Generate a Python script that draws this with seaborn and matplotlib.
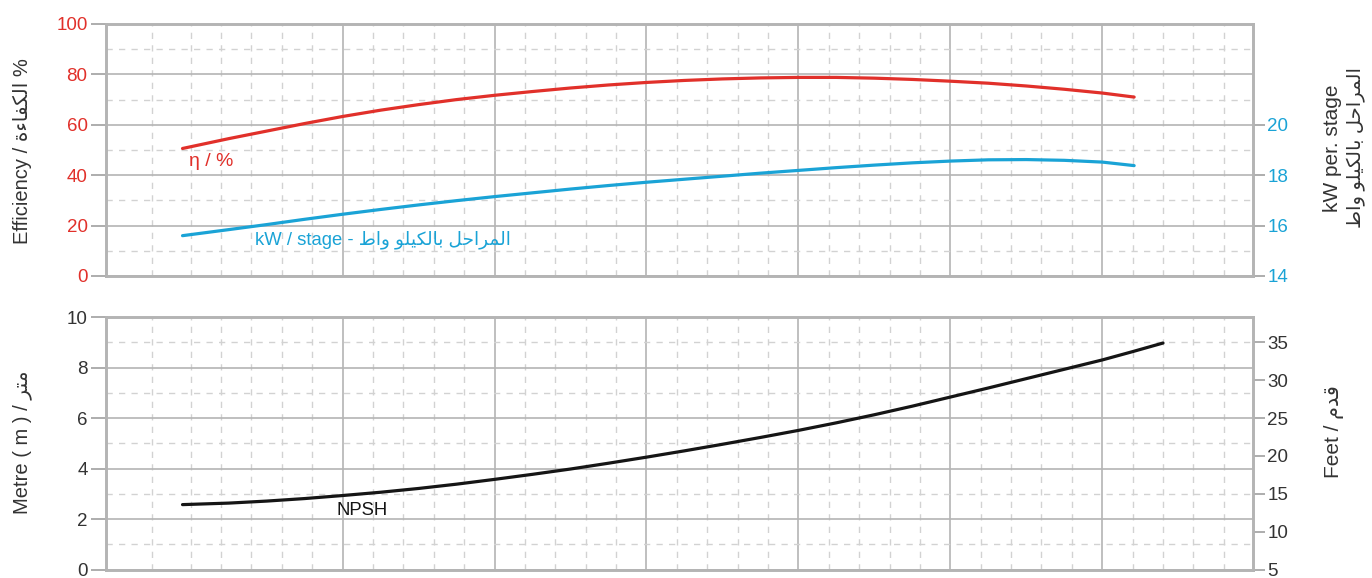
import numpy as np
import pandas as pd
import matplotlib
matplotlib.use("Agg")
import matplotlib.pyplot as plt
import seaborn as sns

# flow positions (1 unit = one minor grid step)
flow = [-0.27, 1.25, 2.5, 3.75, 5, 6.25, 7.5, 8.75, 10, 11.25, 12.5, 13.75, 15,
        16.25, 17.5, 18.75, 20, 21.25, 22.5, 23.75, 25, 26.25, 27.5, 28.75, 30, 31.05]
efficiency = [50.6, 54.5, 57.5, 60.5, 63.3, 65.8, 68.0, 70.0, 71.7, 73.2, 74.6, 75.8, 76.8,
              77.6, 78.2, 78.6, 78.8, 78.8, 78.5, 78.0, 77.3, 76.5, 75.4, 74.1, 72.6, 71.0]
kw_stage = [15.6, 15.84, 16.04, 16.25, 16.45, 16.64, 16.82, 16.99, 17.15, 17.30, 17.45, 17.59, 17.72,
            17.84, 17.96, 18.08, 18.19, 18.30, 18.40, 18.49, 18.56, 18.61, 18.62, 18.59, 18.52, 18.38]

flow_npsh = [-0.27, 1.25, 2.5, 3.75, 5, 6.25, 7.5, 8.75, 10, 11.25, 12.5, 13.75, 15,
             16.25, 17.5, 18.75, 20, 21.25, 22.5, 23.75, 25, 26.25, 27.5, 28.75, 30, 31, 32]
npsh_m = [2.57, 2.63, 2.71, 2.81, 2.93, 3.06, 3.21, 3.38, 3.57, 3.77, 3.98, 4.21, 4.45,
          4.70, 4.96, 5.23, 5.51, 5.81, 6.13, 6.47, 6.83, 7.19, 7.56, 7.93, 8.30, 8.63, 8.97]

eff_ticks = [0, 20, 40, 60, 80, 100]
kw_ticks = [14, 16, 18, 20]
metre_ticks = [0, 2, 4, 6, 8, 10]
feet_ticks = [5, 10, 15, 20, 25, 30, 35]

# Arabic text in visual (left-to-right) order with presentation forms
AR_EFF = "\ufe93\ufe80\ufe8e\ufed4\ufedc\ufedf\ufe8d"          # الكفاءة
AR_METRE = "\ufeae\ufe98\ufee3"                                # متر
AR_FEET = "\ufee1\ufeaa\ufed7"                                 # قدم
AR_KW = ("\ufec1\ufe8d\ufeed" + " "                             # واط
         + "\ufeee\ufee0\ufef4\ufedc\ufedf\ufe8e\ufe91" + " "   # بالكيلو
         + "\ufede\ufea3\ufe8d\ufeae\ufee4\ufedf\ufe8d")        # المراحل

RED = "#e1302a"
CYAN = "#1aa3d6"
GREY = "#b4b4b4"
TXT = "#333333"

sns.set_style("white")
plt.rcParams["font.family"] = ["Liberation Sans", "DejaVu Sans"]

fig = plt.figure(figsize=(13.72, 5.78), dpi=100)
ax1 = fig.add_axes([0.077, 0.5225, 0.836, 0.436])
ax2 = fig.add_axes([0.077, 0.0147, 0.836, 0.4368])

x_major = [5, 10, 15, 20, 25, 30]
x_minor = [-1.28] + [v for v in range(0, 35) if v % 5 != 0 or v == 0]


def style_grid(ax, ymaj, ymin):
    ax.set_xlim(-2.8, 34.95)
    ax.set_xticks(x_major)
    ax.set_xticks(x_minor, minor=True)
    ax.set_yticks(ymaj)
    ax.set_yticks(ymin, minor=True)
    ax.grid(which="major", color=GREY, lw=1.2)
    ax.grid(which="minor", color="#d2d2d2", lw=1.0, ls=(0, (4.5, 4.5)))
    ax.set_axisbelow(True)
    ax.tick_params(axis="x", which="both", length=0, labelbottom=False)
    ax.tick_params(axis="y", which="minor", length=0)
    ax.tick_params(axis="y", which="major", length=11, width=1.2, color="#a0a0a0",
                   labelsize=13.5, pad=2)
    for s in ax.spines.values():
        s.set_color(GREY)
        s.set_linewidth(1.9)


def style_right(ax, color):
    ax.tick_params(axis="y", length=8.5, width=1.2, color="#a0a0a0", labelcolor=color,
                   labelsize=13.5, pad=2)
    for s in ax.spines.values():
        s.set_color(GREY)
        s.set_linewidth(1.9)


# top panel: efficiency + kW per stage
style_grid(ax1, [20, 40, 60, 80], [10, 30, 50, 70, 90])
ax1.set_ylim(0, 100)
ax1.set_yticks(eff_ticks)
ax1.tick_params(axis="y", labelcolor=RED)
sns.lineplot(x=flow, y=efficiency, ax=ax1, color=RED, lw=2.3)
ax1.text(-0.05, 45.5, "η / %", color=RED, fontsize=14, va="center", ha="left")
ax1.text(2.1, 14.3, "kW / stage - " + AR_KW, color=CYAN, fontsize=13.3, va="center", ha="left")

ax1r = ax1.twinx()
ax1r.set_ylim(14, 24)
ax1r.set_yticks(kw_ticks)
sns.lineplot(x=flow, y=kw_stage, ax=ax1r, color=CYAN, lw=2.3)
style_right(ax1r, CYAN)

# bottom panel: NPSH
style_grid(ax2, [2, 4, 6, 8], [1, 3, 5, 7, 9])
ax2.set_ylim(0, 10)
ax2.set_yticks(metre_ticks)
ax2.tick_params(axis="y", labelcolor=TXT)
sns.lineplot(x=flow_npsh, y=npsh_m, ax=ax2, color="#151515", lw=2.3)
ax2.text(4.8, 2.32, "NPSH", color="#151515", fontsize=13.3, va="center", ha="left")

ax2r = ax2.twinx()
ax2r.set_ylim(5, 5 + 100 / 3)
ax2r.set_yticks(feet_ticks)
style_right(ax2r, TXT)

# axis titles
fig.text(0.016, 0.739, "Efficiency / " + AR_EFF + " %", fontsize=14.5, color=TXT,
         rotation=90, ha="center", va="center")
fig.text(0.016, 0.234, "Metre ( m ) / " + AR_METRE, fontsize=14.5, color=TXT,
         rotation=90, ha="center", va="center")
fig.text(0.9715, 0.744, "kW per. stage", fontsize=15, color=TXT,
         rotation=90, ha="center", va="center")
fig.text(0.9885, 0.744, AR_KW, fontsize=14, color=TXT,
         rotation=90, ha="center", va="center")
fig.text(0.972, 0.2526, "Feet / " + AR_FEET, fontsize=15, color=TXT,
         rotation=90, ha="center", va="center")

fig.savefig("out.png", dpi=100)
